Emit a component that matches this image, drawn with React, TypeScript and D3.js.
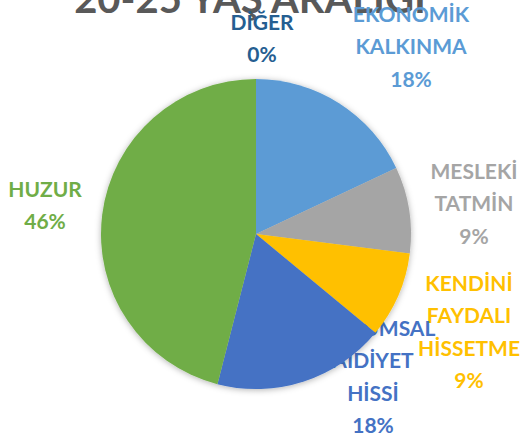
import * as d3 from "d3";
import React from "react";

const categories = [
  "EKONOMİK KALKINMA",
  "MESLEKİ TATMİN",
  "KENDİNİ FAYDALI HİSSETME",
  "TOPLUMSAL AİDİYET HİSSİ",
  "HUZUR",
  "DİĞER",
];
const values = [18, 9, 9, 18, 46, 0];
const colors = ["#5B9BD5", "#A5A5A5", "#FFC000", "#4472C4", "#70AD47", "#255E91"];
const labelLines = [
  ["EKONOMİK", "KALKINMA"],
  ["MESLEKİ", "TATMİN"],
  ["KENDİNİ", "FAYDALI", "HİSSETME"],
  ["TOPLUMSAL", "AİDİYET", "HİSSİ"],
  ["HUZUR"],
  ["DİĞER"],
];
const title = "20-25 YAŞ ARALIĞI";

// label anchor (first line centre), relative to pie centre
const labelPos: [number, number][] = [
  [155, -220],
  [218, -63],
  [213, 49],
  [117, 94],
  [-211, -45],
  [6, -212],
];

const width = 531;
const height = 442;
const cx = 256;
const cy = 234;
const radius = 155;
const lineH = 32.5;

const App: React.FC = () => {
  const pie = d3
    .pie<number>()
    .sort(null)
    .value((d) => d)(values);
  const arc = d3.arc<d3.PieArcDatum<number>>().innerRadius(0).outerRadius(radius);
  const total = d3.sum(values);
  const fmt = (v: number) => `${Math.round((v / total) * 100)}%`;

  return (
    <svg
      width={width}
      height={height}
      style={{ position: "absolute", left: 0, top: 0, fontFamily: "Lato, sans-serif" }}
    >
      <defs>
        <filter id="shadow" x="-20%" y="-20%" width="140%" height="140%">
          <feDropShadow dx="0" dy="1" stdDeviation="3" floodColor="#000" floodOpacity="0.3" />
        </filter>
      </defs>
      <rect width={width} height={height} fill="#fff" />
      <text
        x={250}
        y={13}
        textAnchor="middle"
        fontSize={40}
        fontWeight={700}
        fill="#595959"
      >
        {title}
      </text>
      <g transform={`translate(${cx},${cy})`}>
        {categories.map((c, i) => {
          const [lx, ly] = labelPos[i];
          const lines = [...labelLines[i], fmt(values[i])];
          return (
            <text
              key={c}
              textAnchor="middle"
              fontSize={21}
              fontWeight={700}
              fill={colors[i]}
            >
              {lines.map((t, j) => (
                <tspan key={j} x={lx} y={ly + j * lineH + 7.5}>
                  {t}
                </tspan>
              ))}
            </text>
          );
        })}
        <g filter="url(#shadow)">
          {pie.map((d, i) => (
            <path key={categories[i]} d={arc(d) || ""} fill={colors[i]} />
          ))}
        </g>
      </g>
    </svg>
  );
};

export default App;
